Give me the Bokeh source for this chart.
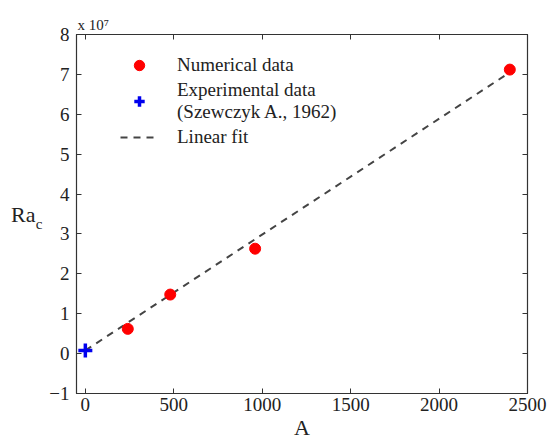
from bokeh.plotting import figure
from bokeh.models import (Range1d, LinearAxis, FixedTicker, Title, Legend, LegendItem)
from bokeh.embed import file_html
from bokeh.resources import INLINE

# Data (values in units of 1e7)
num_A = [240, 480, 960, 2400]
num_Ra = [0.62, 1.48, 2.63, 7.12]
exp_A = [0]
exp_Ra = [0.08]
fit_A = [0, 2400]
fit_Ra = [0.08, 7.05]

x_ticks = [0, 500, 1000, 1500, 2000, 2500]
y_ticks = [-1, 0, 1, 2, 3, 4, 5, 6, 7, 8]

SERIF = "Liberation Serif"
AXC = "#333333"
TXT = "#222222"
NB = "\u00a0"

p = figure(width=547, height=444, output_backend="svg", toolbar_location=None,
           x_range=Range1d(-50, 2500), y_range=Range1d(-1, 8),
           min_border_left=76, min_border_right=20, min_border_top=34,
           min_border_bottom=51, x_axis_label="A")
p.grid.visible = False
p.outline_line_color = AXC
p.outline_line_width = 1.2
p.background_fill_color = "white"
p.border_fill_color = "white"

def style_axis(ax, ticks, labels=True):
    ax.ticker = FixedTicker(ticks=ticks)
    ax.minor_tick_line_color = None
    ax.major_tick_in = 5
    ax.major_tick_out = 0
    ax.axis_line_color = AXC
    ax.major_tick_line_color = AXC
    ax.major_label_text_font = SERIF
    ax.major_label_text_font_size = "19px" if labels else "0px"
    ax.major_label_text_color = TXT
    ax.major_label_standoff = 5 if labels else 0

style_axis(p.xaxis[0], x_ticks)
style_axis(p.yaxis[0], y_ticks)
p.xaxis[0].major_label_standoff = 4
p.yaxis[0].major_label_standoff = 7
p.yaxis[0].major_label_overrides = {-1: "\u22121"}
p.xaxis[0].axis_label_text_font = SERIF
p.xaxis[0].axis_label_text_font_size = "22px"
p.xaxis[0].axis_label_text_font_style = "normal"
p.xaxis[0].axis_label_text_color = TXT
p.xaxis[0].axis_label_standoff = 1

# y axis label Ra_c: subscript "c" on the main axis, "Ra" on an outer bare axis
p.yaxis[0].axis_label = NB + "\nc"
p.yaxis[0].axis_label_text_font = SERIF
p.yaxis[0].axis_label_text_font_size = "15px"
p.yaxis[0].axis_label_text_font_style = "normal"
p.yaxis[0].axis_label_text_color = TXT
p.yaxis[0].axis_label_standoff = 4
p.yaxis[0].axis_label_orientation = "horizontal"

ra_ax = LinearAxis(axis_label="Ra")
ra_ax.ticker = FixedTicker(ticks=[])
ra_ax.axis_line_color = None
ra_ax.major_tick_line_color = None
ra_ax.minor_tick_line_color = None
ra_ax.major_label_text_font_size = "0px"
ra_ax.major_label_standoff = 0
ra_ax.major_tick_in = 0
ra_ax.major_tick_out = 0
ra_ax.axis_label_text_font = SERIF
ra_ax.axis_label_text_font_size = "22px"
ra_ax.axis_label_text_font_style = "normal"
ra_ax.axis_label_text_color = TXT
ra_ax.axis_label_standoff = -3
ra_ax.axis_label_orientation = "horizontal"
p.add_layout(ra_ax, "left")

top_ax = LinearAxis()
style_axis(top_ax, x_ticks, labels=False)
p.add_layout(top_ax, "above")
right_ax = LinearAxis()
style_axis(right_ax, y_ticks, labels=False)
p.add_layout(right_ax, "right")

r_fit = p.line(fit_A, fit_Ra, line_color="#444444", line_width=2, line_dash="7 6")
r_num = p.scatter(num_A, num_Ra, marker="circle", size=11, fill_color="red", line_color="red")
r_exp = p.scatter(exp_A, exp_Ra, marker="cross", size=14, line_color="#0000ee", line_width=3.5)

legend = Legend(items=[
    LegendItem(label="Numerical data", renderers=[r_num]),
    LegendItem(label="Experimental data\n(Szewczyk A., 1962)", renderers=[r_exp]),
    LegendItem(label="Linear fit", renderers=[r_fit]),
], location=(44, 243))
legend.border_line_color = None
legend.background_fill_alpha = 0
legend.label_text_font = SERIF
legend.label_text_font_size = "19px"
legend.label_text_color = TXT
legend.glyph_width = 38
legend.glyph_height = 26
legend.label_standoff = 19
legend.spacing = 1
legend.padding = 4
p.add_layout(legend, "center")

# multiplier label above the plot
p.add_layout(Title(text="x 10\u2077", align="left", offset=1, standoff=4,
                   text_font=SERIF, text_font_size="15px",
                   text_font_style="normal", text_color=TXT), "above")

open("out.html", "w").write(file_html(p, INLINE))
